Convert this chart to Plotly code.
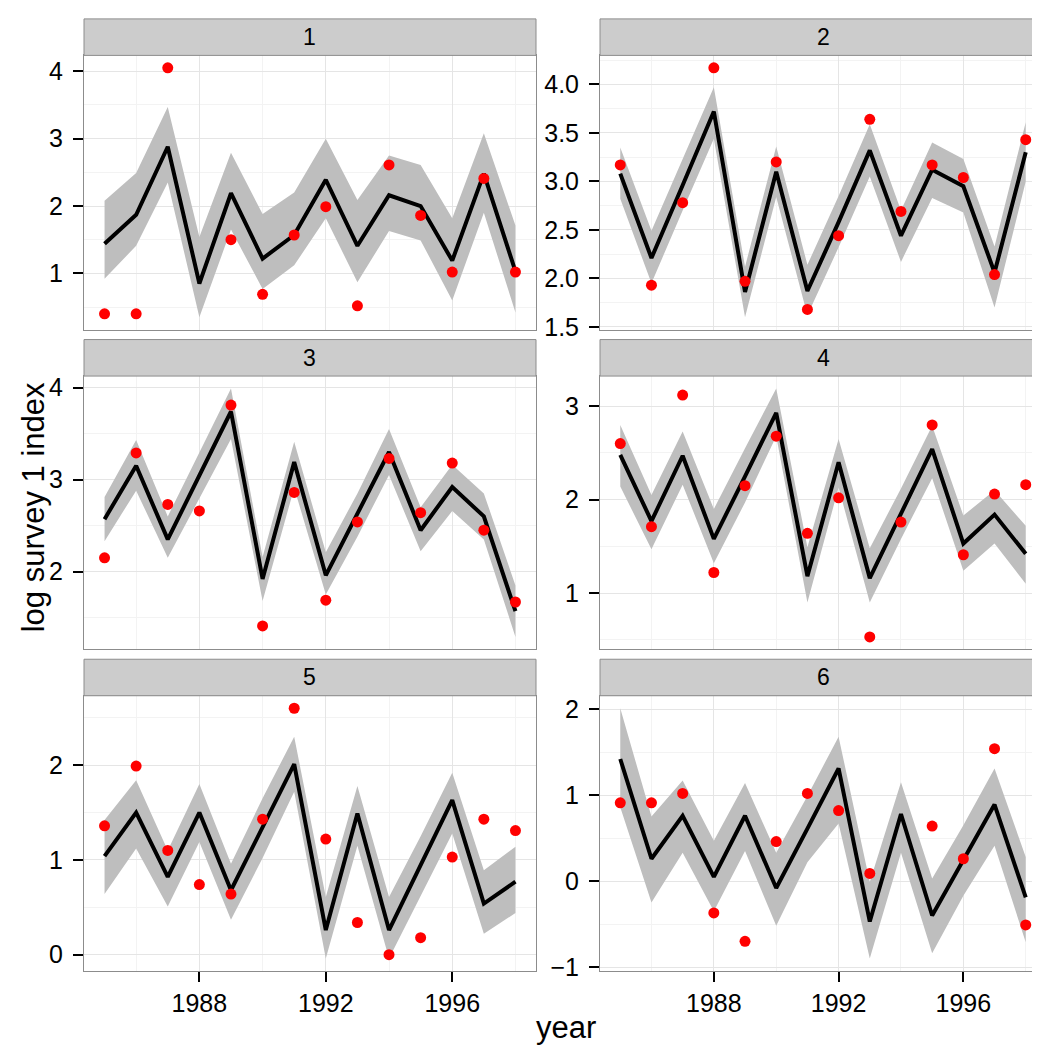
import plotly.graph_objects as go

years = list(range(1985, 1999))
panel_labels = ["1", "2", "3", "4", "5", "6"]
x_tick_vals = [1988, 1992, 1996]
x_tick_text = ["1988", "1992", "1996"]

fit1 = [1.44, 1.87, 2.88, 0.85, 2.19, 1.22, 1.57, 2.39, 1.41, 2.16, 2.00, 1.19, 2.48, 1.03]
up1 = [2.08, 2.49, 3.47, 1.54, 2.79, 1.88, 2.20, 3.00, 2.09, 2.75, 2.61, 1.82, 3.08, 1.71]
lo1 = [0.92, 1.41, 2.35, 0.35, 1.65, 0.77, 1.12, 1.82, 0.87, 1.63, 1.49, 0.60, 1.90, 0.42]
obs1 = [0.40, 0.40, 4.05, None, 1.50, 0.69, 1.57, 1.99, 0.52, 2.61, 1.86, 1.02, 2.41, 1.02]

fit2 = [3.08, 2.21, 2.96, 3.72, 1.86, 3.10, 1.87, 2.58, 3.32, 2.44, 3.12, 2.95, 2.06, 3.30]
up2 = [3.35, 2.49, 3.23, 3.97, 2.12, 3.36, 2.14, 2.85, 3.59, 2.70, 3.40, 3.23, 2.33, 3.61]
lo2 = [2.82, 1.95, 2.70, 3.44, 1.60, 2.84, 1.62, 2.32, 3.05, 2.17, 2.83, 2.68, 1.70, 3.00]
obs2 = [3.17, 1.93, 2.78, 4.17, 1.97, 3.20, 1.68, 2.44, 3.64, 2.69, 3.17, 3.04, 2.04, 3.43]

fit3 = [2.57, 3.15, 2.35, 3.05, 3.74, 1.92, 3.19, 1.96, 2.62, 3.30, 2.45, 2.92, 2.60, 1.57]
up3 = [2.81, 3.43, 2.60, 3.30, 3.99, 2.16, 3.41, 2.21, 2.85, 3.55, 2.70, 3.16, 2.85, 1.85]
lo3 = [2.33, 2.88, 2.15, 2.80, 3.44, 1.68, 2.91, 1.75, 2.38, 3.05, 2.22, 2.66, 2.35, 1.29]
obs3 = [2.15, 3.29, 2.73, 2.66, 3.81, 1.41, 2.86, 1.69, 2.54, 3.23, 2.64, 3.18, 2.45, 1.67]

fit4 = [2.48, 1.77, 2.47, 1.58, 2.25, 2.93, 1.18, 2.40, 1.16, 1.85, 2.54, 1.53, 1.84, 1.42]
up4 = [2.80, 2.05, 2.73, 1.90, 2.55, 3.19, 1.49, 2.65, 1.48, 2.12, 2.79, 1.83, 2.10, 1.72]
lo4 = [2.14, 1.47, 2.16, 1.32, 1.97, 2.68, 0.90, 2.13, 0.90, 1.58, 2.23, 1.24, 1.53, 1.10]
obs4 = [2.60, 1.71, 3.12, 1.22, 2.15, 2.68, 1.64, 2.02, 0.53, 1.76, 2.80, 1.41, 2.06, 2.16]

fit5 = [1.04, 1.50, 0.82, 1.50, 0.68, 1.34, 2.01, 0.26, 1.49, 0.26, 0.94, 1.63, 0.54, 0.77]
up5 = [1.42, 1.84, 1.10, 1.80, 0.96, 1.65, 2.30, 0.61, 1.78, 0.61, 1.25, 1.92, 0.89, 1.14]
lo5 = [0.64, 1.12, 0.51, 1.19, 0.37, 1.02, 1.72, -0.04, 1.15, -0.04, 0.62, 1.28, 0.22, 0.44]
obs5 = [1.36, 1.99, 1.10, 0.74, 0.64, 1.43, 2.60, 1.22, 0.34, 0.00, 0.18, 1.03, 1.43, 1.31]

fit6 = [1.42, 0.26, 0.76, 0.05, 0.76, -0.08, 0.61, 1.31, -0.47, 0.78, -0.40, 0.25, 0.89, -0.19]
up6 = [2.01, 0.75, 1.17, 0.47, 1.14, 0.33, 0.99, 1.68, -0.01, 1.15, 0.03, 0.65, 1.31, 0.28]
lo6 = [0.86, -0.25, 0.33, -0.35, 0.35, -0.52, 0.22, 0.67, -0.90, 0.33, -0.84, -0.17, 0.41, -0.71]
obs6 = [0.91, 0.91, 1.02, -0.37, -0.70, 0.46, 1.02, 0.82, 0.09, None, 0.64, 0.26, 1.54, -0.51]

fits = [fit1, fit2, fit3, fit4, fit5, fit6]
ups = [up1, up2, up3, up4, up5, up6]
los = [lo1, lo2, lo3, lo4, lo5, lo6]
obss = [obs1, obs2, obs3, obs4, obs5, obs6]

W, H = 1040, 1050
FONT = "Liberation Sans, Arial, sans-serif"
col_px = [(76, 528), (592, 1038)]
row_px = [(45, 323), (370, 647), (694, 973)]
strip_px = [(8, 45), (333, 370), (657, 694)]

def px_x(p):
    return p / W

def px_y(p):
    return 1 - p / H

fig = go.Figure()
layout = dict(
    width=W, height=H, margin=dict(l=0, r=0, t=0, b=0),
    paper_bgcolor="white", plot_bgcolor="white", showlegend=False,
    font=dict(family=FONT, color="black"),
)
shapes = []
annotations = []

xr = [min(years) - 0.05 * (max(years) - min(years)), max(years) + 0.05 * (max(years) - min(years))]

for i in range(6):
    r, c = divmod(i, 2)
    ax = "" if i == 0 else str(i + 1)
    xa, ya = "x" + ax, "y" + ax
    fig.add_trace(go.Scatter(x=years, y=los[i], mode="lines", line=dict(width=0, color="rgba(0,0,0,0)"),
                             xaxis=xa, yaxis=ya, hoverinfo="skip"))
    fig.add_trace(go.Scatter(x=years, y=ups[i], mode="lines", line=dict(width=0, color="rgba(0,0,0,0)"),
                             fill="tonexty", fillcolor="#BEBEBE", xaxis=xa, yaxis=ya, hoverinfo="skip"))
    fig.add_trace(go.Scatter(x=years, y=fits[i], mode="lines", line=dict(width=4, color="black"),
                             xaxis=xa, yaxis=ya))
    fig.add_trace(go.Scatter(x=years, y=obss[i], mode="markers", marker=dict(size=11, color="#FF0000"),
                             xaxis=xa, yaxis=ya))

    vals = [v for v in los[i] + ups[i] + obss[i] if v is not None]
    lo, hi = min(vals), max(vals)
    pad = 0.05 * (hi - lo)
    yr = [lo - pad, hi + pad]
    dt = 0.5 if i == 1 else 1.0

    x0, x1 = col_px[c]
    y0, y1 = row_px[r]
    bottom = (r == 2)
    layout["xaxis" + ax] = dict(
        domain=[px_x(x0), px_x(x1)], anchor=ya, range=xr,
        tickmode="array", tickvals=x_tick_vals, ticktext=x_tick_text,
        showticklabels=bottom, ticks="outside" if bottom else "", ticklen=10, tickwidth=2, tickcolor="black",
        tickfont=dict(size=25, color="black", family=FONT),
        showgrid=True, gridcolor="#E5E5E5", gridwidth=1,
        minor=dict(tickmode="array", tickvals=[1986, 1990, 1994, 1998], showgrid=True,
                   gridcolor="#F3F3F3", gridwidth=1, ticks=""),
        showline=True, mirror=True, linecolor="#8C8C8C", linewidth=1, zeroline=False,
        fixedrange=True,
    )
    layout["yaxis" + ax] = dict(
        domain=[px_y(y1), px_y(y0)], anchor=xa, range=yr,
        tickmode="linear", tick0=0, dtick=dt, tickformat=".1f" if i == 1 else "d",
        ticks="outside", ticklen=10, tickwidth=2, tickcolor="black",
        tickfont=dict(size=25, color="black", family=FONT), ticklabelstandoff=5,
        showgrid=True, gridcolor="#E5E5E5", gridwidth=1,
        minor=dict(tick0=dt / 2, dtick=dt, showgrid=True, gridcolor="#F3F3F3", gridwidth=1, ticks=""),
        showline=True, mirror=True, linecolor="#8C8C8C", linewidth=1, zeroline=False,
        fixedrange=True,
    )
    s0, s1 = strip_px[r]
    shapes.append(dict(type="rect", xref="paper", yref="paper",
                       x0=px_x(x0), x1=px_x(x1), y0=px_y(s1), y1=px_y(s0),
                       fillcolor="#CCCCCC", line=dict(color="#8C8C8C", width=1)))
    annotations.append(dict(text=panel_labels[i], xref="paper", yref="paper",
                            x=(px_x(x0) + px_x(x1)) / 2, y=(px_y(s0) + px_y(s1)) / 2,
                            xanchor="center", yanchor="middle", showarrow=False,
                            font=dict(size=23, color="black", family=FONT)))

annotations.append(dict(text="log survey 1 index", xref="paper", yref="paper",
                        x=px_x(25), y=px_y(503), textangle=-90, xanchor="center", yanchor="middle",
                        showarrow=False, font=dict(size=31, color="black", family=FONT)))
annotations.append(dict(text="year", xref="paper", yref="paper",
                        x=px_x(558), y=px_y(1030), xanchor="center", yanchor="middle",
                        showarrow=False, font=dict(size=31, color="black", family=FONT)))

layout["shapes"] = shapes
layout["annotations"] = annotations
fig.update_layout(**layout)
fig.write_html("out.html")
